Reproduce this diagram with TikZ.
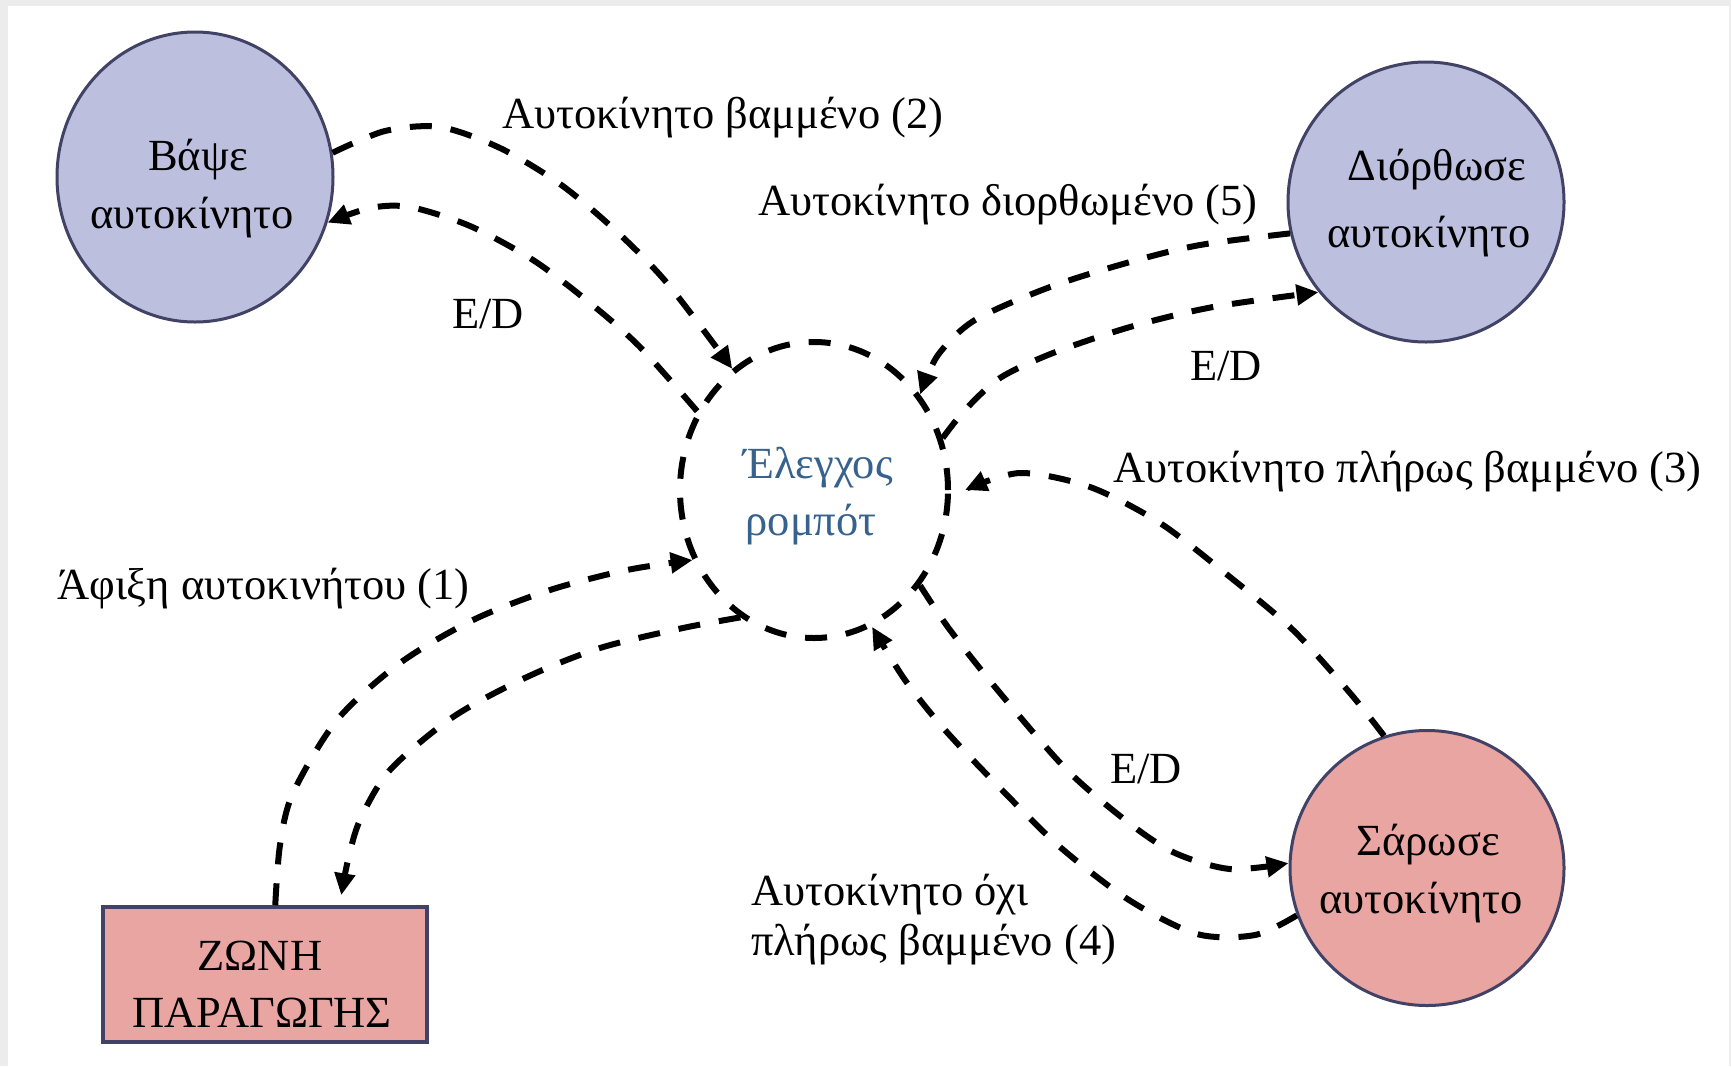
\documentclass[tikz,border=0pt]{standalone}
\usepackage{fontspec}
\setmainfont{Liberation Serif}
\usetikzlibrary{arrows.meta,shapes.geometric}
\definecolor{lavender}{RGB}{189,191,222}
\definecolor{salmon}{RGB}{233,165,162}
\definecolor{rim}{RGB}{66,66,102}
\definecolor{robotblue}{RGB}{55,98,142}
\definecolor{framegray}{RGB}{236,236,236}

\begin{document}
\begin{tikzpicture}[x=1pt,y=-1pt,
  every node/.style={font=\fontsize{44.5}{52}\selectfont, inner sep=0pt},
  proc/.style={ellipse, draw=rim, line width=3pt},
  flow/.style={line width=6pt, dash pattern=on 22pt off 19pt,
    -{Triangle[length=22pt,width=20pt]}},
  txt/.style={anchor=base},
  lbl/.style={anchor=base west}]

% page with a light frame on the left, top and right
\fill[framegray] (0,0) rectangle (1731,1066);
\fill[white] (8,6) rectangle (1729,1066);
\useasboundingbox (0,0) rectangle (1731,1066);

% processes and the terminator
\node[proc, fill=lavender, minimum width=276pt, minimum height=290pt] (paint) at (195,177) {};
\node[proc, fill=lavender, minimum width=276pt, minimum height=280pt] (fix) at (1426,202) {};
\node[proc, fill=salmon, minimum width=274pt, minimum height=275pt] (scan) at (1427,868) {};
\node[ellipse, draw=black, line width=6pt, dash pattern=on 22pt off 19pt,
      minimum width=268pt, minimum height=296pt] (robot) at (814,490) {};
\node[draw=rim, line width=3.5pt, fill=salmon, minimum width=324pt, minimum height=135pt] (zone) at (265,974.5) {};

% control flows
\draw[flow] plot[smooth] coordinates {(paint.10) (385,131) (440,127) (500,148) (560,184) (615,230) (667,283) (robot.124)};
\draw[flow] plot[smooth] coordinates {(robot.146) (640,347) (590,303) (533,260) (470,226) (410,207) (370,208) (paint.-19)};
\draw[flow] plot[smooth] coordinates {(fix.193) (1200,245) (1130,262) (1050,287) (975,320) (938,355) (robot.42)};
\draw[flow] plot[smooth] coordinates {(robot.22) (965,410) (1000,378) (1053,353) (1130,327) (1213,307) (fix.220)};
\draw[flow] plot[smooth] coordinates {(scan.108) (1350,693) (1293,630) (1230,577) (1160,523) (1090,487) (1020,473) ([xshift=14pt]robot.east)};
\draw[flow] plot[smooth] coordinates {(robot.-42) (950,630) (1000,693) (1067,770) (1129,823) (1175,853) (1230,869) (scan.178)};
\draw[flow] plot[smooth] coordinates {(scan.200) (1255,935) (1197,934) (1129,900) (1060,847) (1002,790) (945,730) (905,680) (robot.-67)};
\draw[flow] plot[smooth] coordinates {([xshift=174pt]zone.north west) (280,845) (293,793) (337,720) (400,663) (473,620) (550,590) (627,570) (robot.-150)};
\draw[flow] plot[smooth] coordinates {(robot.-120) (683,628) (600,648) (527,677) (453,717) (390,770) (360,820) (348,860) ([xshift=240pt,yshift=10pt]zone.north west)};

% texts inside the shapes
\node[txt] (paint-l1) at (198,170) {Βάψε};
\node[txt] (paint-l2) at (192,228) {αυτοκίνητο};
\node[txt] (fix-l1) at (1437,180) {Διόρθωσε};
\node[txt] (fix-l2) at (1429,247) {αυτοκίνητο};
\node[txt] (scan-l1) at (1428,855) {Σάρωσε};
\node[txt] (scan-l2) at (1421,913) {αυτοκίνητο};
\node[txt, text=robotblue] (robot-l1) at (818,478) {Έλεγχος};
\node[txt, text=robotblue] (robot-l2) at (811,535) {ρομπότ};
\node[txt] (zone-l1) at (260,970) {ΖΩΝΗ};
\node[txt] (zone-l2) at (262,1027) {ΠΑΡΑΓΩΓΗΣ};

% flow labels
\node[lbl] (lab-2) at (502,128) {Αυτοκίνητο βαμμένο (2)};
\node[lbl] (lab-ed-paint) at (452,328) {E/D};
\node[lbl] (lab-5) at (758,215) {Αυτοκίνητο διορθωμένο (5)};
\node[lbl] (lab-ed-fix) at (1190,380) {E/D};
\node[lbl] (lab-3) at (1113,482) {Αυτοκίνητο πλήρως βαμμένο (3)};
\node[lbl] (lab-ed-scan) at (1110,783) {E/D};
\node[lbl] (lab-4a) at (751,905) {Αυτοκίνητο όχι};
\node[lbl] (lab-4b) at (751,955) {πλήρως βαμμένο (4)};
\node[lbl] (lab-1) at (57,599) {Άφιξη αυτοκινήτου (1)};
\end{tikzpicture}
\end{document}
